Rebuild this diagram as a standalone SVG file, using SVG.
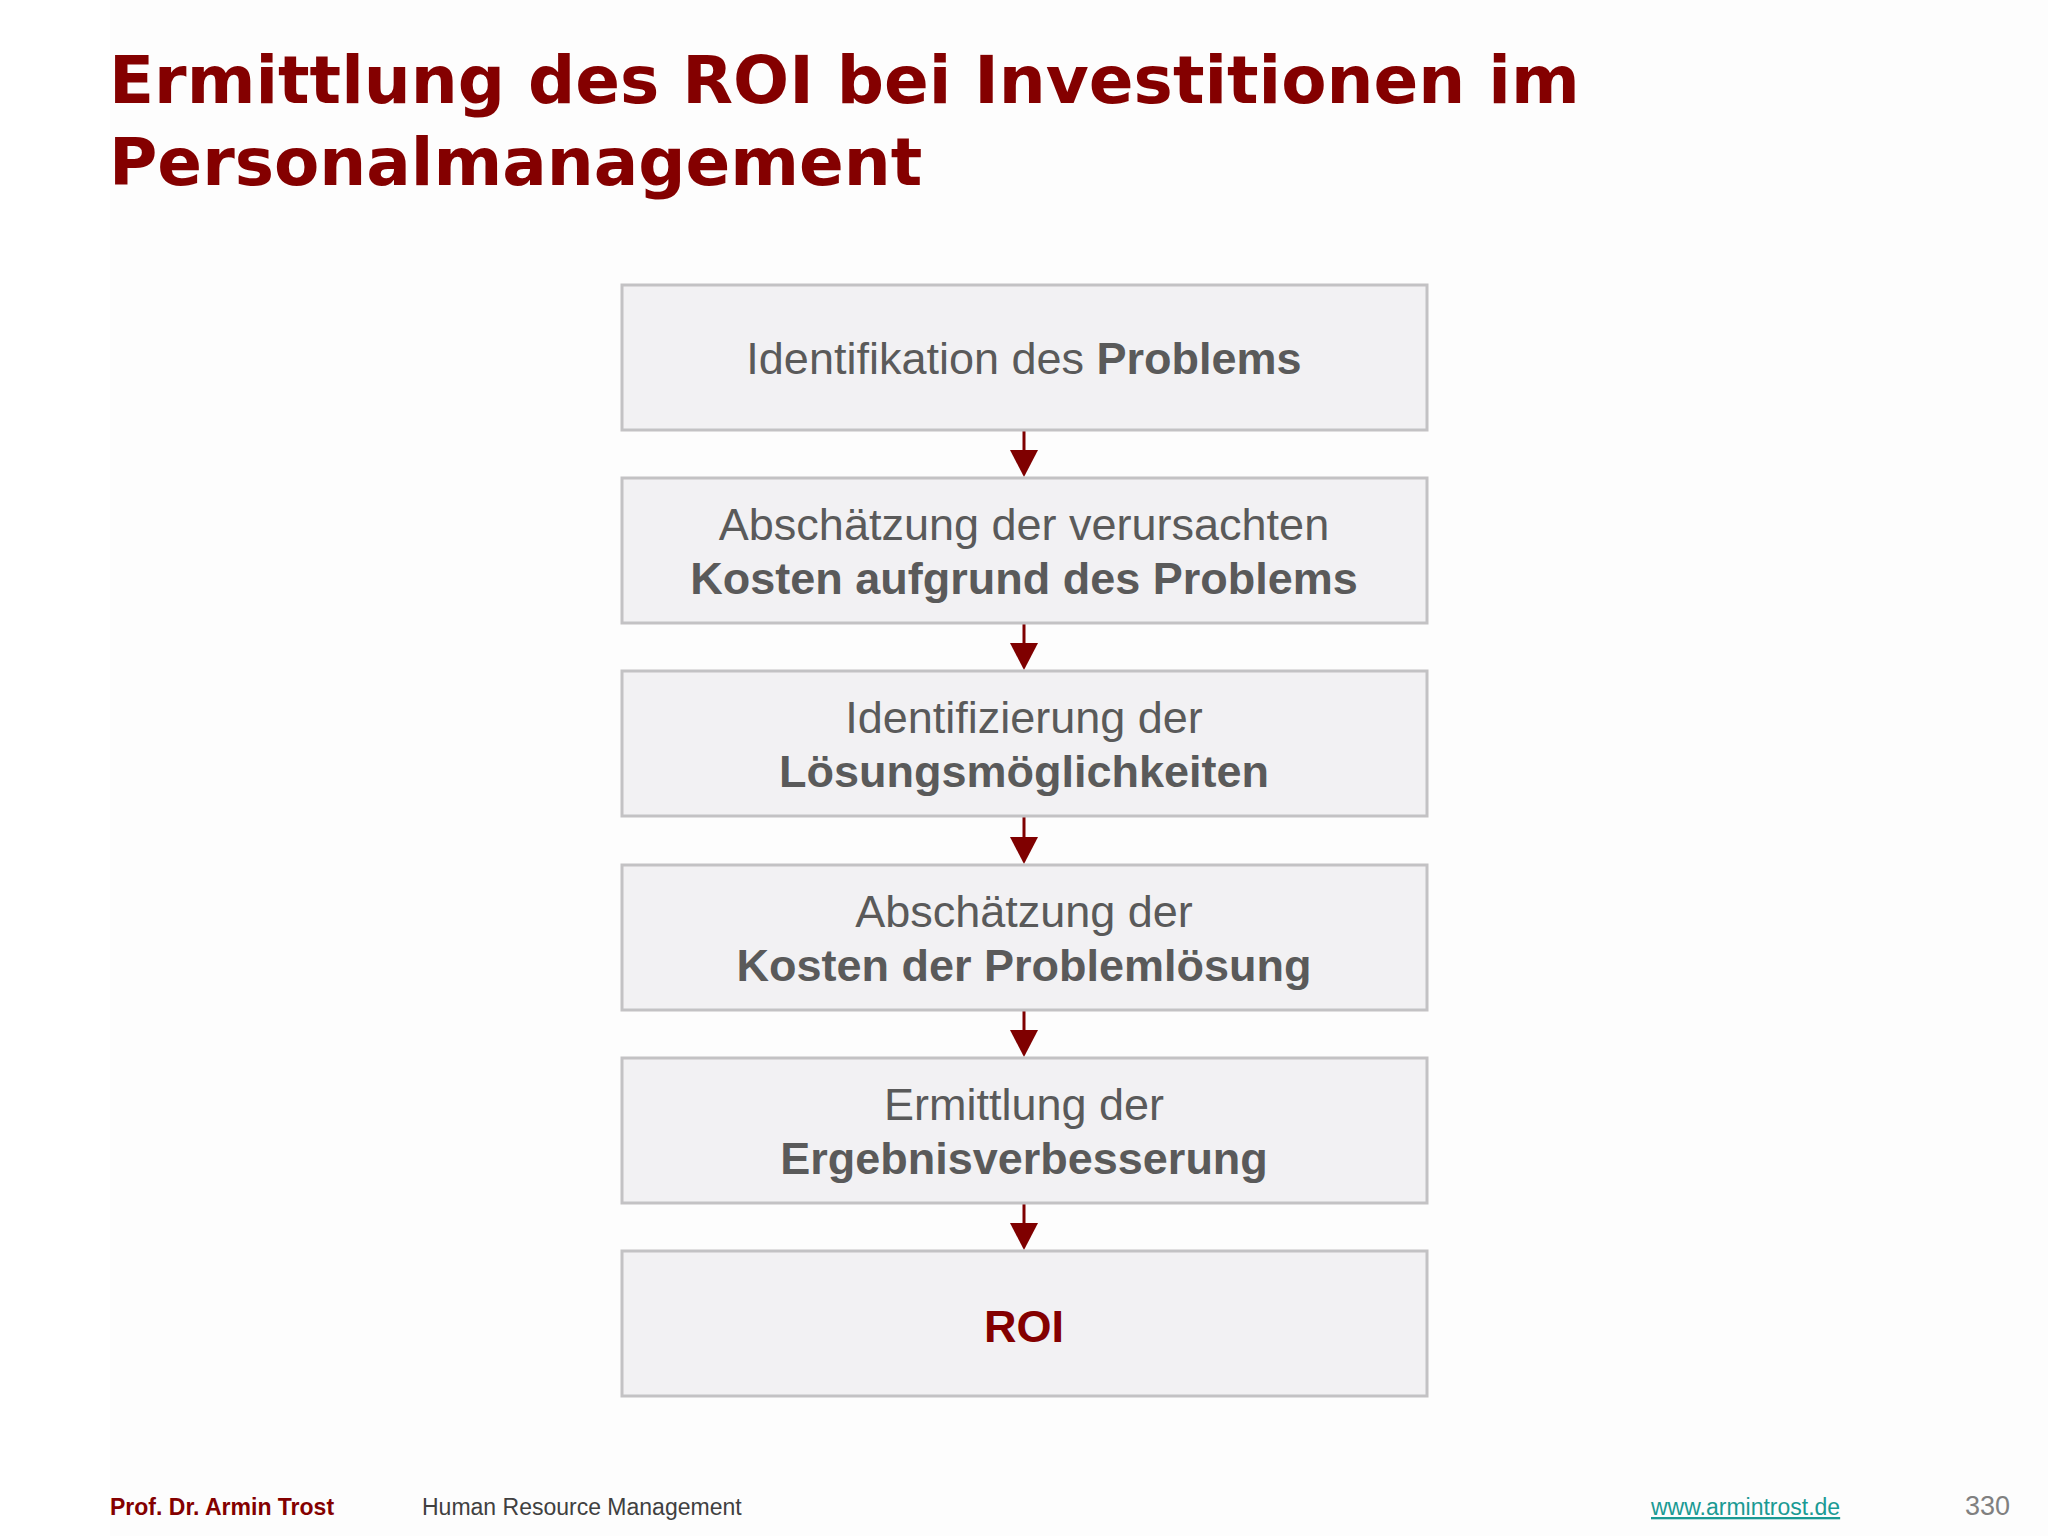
<svg xmlns="http://www.w3.org/2000/svg" width="2048" height="1536" viewBox="0 0 2048 1536">
<defs>
<style>
.title{font-family:"DejaVu Sans",sans-serif;font-weight:bold;font-size:66px;fill:#840000}
.box{fill:#f2f1f3;stroke:#c3c2c4;stroke-width:3}
.t{font-family:"Liberation Sans",Arial,sans-serif;font-size:45px;fill:#5a5a5a;text-anchor:middle}
.b{font-weight:bold}
.roi{font-family:"Liberation Sans",Arial,sans-serif;font-size:45px;font-weight:bold;fill:#840000;text-anchor:middle}
.conn{stroke:#7f0000;stroke-width:3;fill:none}
.head{fill:#7f0000}
.foot{font-family:"Liberation Sans",Arial,sans-serif;font-size:23px}
</style>
</defs>
<rect width="2048" height="1536" fill="#ffffff"/>
<rect x="110" y="0" width="1938" height="1536" fill="#fdfdfd"/>
<g id="title">
<text class="title" x="109" y="103">Ermittlung des ROI bei Investitionen im</text>
<text class="title" x="109" y="185">Personalmanagement</text>
</g>
<g id="connectors">
<path class="conn" d="M1024,431 V452"/>
<path class="head" d="M1010,450 L1038,450 L1024,477 Z"/>
<path class="conn" d="M1024,624 V645"/>
<path class="head" d="M1010,643 L1038,643 L1024,670 Z"/>
<path class="conn" d="M1024,817 V839"/>
<path class="head" d="M1010,837 L1038,837 L1024,864 Z"/>
<path class="conn" d="M1024,1011 V1032"/>
<path class="head" d="M1010,1030 L1038,1030 L1024,1057 Z"/>
<path class="conn" d="M1024,1204 V1225"/>
<path class="head" d="M1010,1223 L1038,1223 L1024,1250 Z"/>
</g>
<g id="n1">
<rect class="box" x="622" y="285" width="805" height="145"/>
<text class="t" x="1024" y="374">Identifikation des <tspan class="b">Problems</tspan></text>
</g>
<g id="n2">
<rect class="box" x="622" y="478" width="805" height="145"/>
<text class="t" x="1024" y="540">Abschätzung der verursachten</text>
<text class="t b" x="1024" y="594">Kosten aufgrund des Problems</text>
</g>
<g id="n3">
<rect class="box" x="622" y="671" width="805" height="145"/>
<text class="t" x="1024" y="733">Identifizierung der</text>
<text class="t b" x="1024" y="787">Lösungsmöglichkeiten</text>
</g>
<g id="n4">
<rect class="box" x="622" y="865" width="805" height="145"/>
<text class="t" x="1024" y="927">Abschätzung der</text>
<text class="t b" x="1024" y="981">Kosten der Problemlösung</text>
</g>
<g id="n5">
<rect class="box" x="622" y="1058" width="805" height="145"/>
<text class="t" x="1024" y="1120">Ermittlung der</text>
<text class="t b" x="1024" y="1174">Ergebnisverbesserung</text>
</g>
<g id="n6">
<rect class="box" x="622" y="1251" width="805" height="145"/>
<text class="roi" x="1024" y="1342">ROI</text>
</g>
<g id="footer">
<text class="foot" x="110" y="1515" font-weight="bold" fill="#840000">Prof. Dr. Armin Trost</text>
<text class="foot" x="422" y="1515" fill="#404040">Human Resource Management</text>
<text class="foot" x="1651" y="1515" fill="#1a9a94" text-decoration="underline">www.armintrost.de</text>
<text x="2010" y="1515" font-family="Liberation Sans, Arial, sans-serif" font-size="27" fill="#808080" text-anchor="end">330</text>
</g>
</svg>
